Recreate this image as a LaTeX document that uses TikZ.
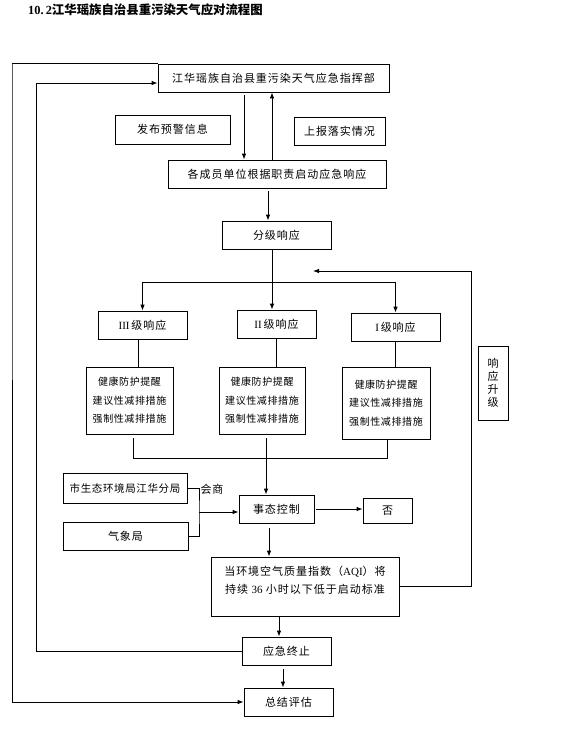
\documentclass[tikz,border=0pt]{standalone}
\usepackage{fontspec}
\setmainfont{Liberation Serif}
\newfontfamily\cjk[LetterSpace=9]{Noto Sans CJK SC}
\newfontfamily\cjkm[LetterSpace=6]{Noto Sans CJK SC}
\newfontfamily\cjkt{Noto Sans CJK SC}
\usepackage{tikz}
\usetikzlibrary{arrows.meta, positioning, calc}

\begin{document}
\begin{tikzpicture}[
  x=1pt, y=-1pt,
  >={Latex[length=6pt,width=4.5pt]},
  box/.style={draw, rectangle, line width=0.8pt, inner sep=0pt, font=\fontsize{11}{14}\selectfont\cjk, align=center},
  measbox/.style={box, font=\fontsize{10}{18.5}\selectfont\cjkm},
  flow/.style={->, line width=0.8pt},
  link/.style={line width=0.8pt},
  lbl/.style={font=\fontsize{11}{13}\selectfont\cjk, inner sep=0pt}
]
\useasboundingbox (0,0) rectangle (572,732);

\node[font=\fontsize{12.4}{14}\selectfont\bfseries, anchor=west, inner sep=0pt] (title) at (28,10) {{\rmfamily 10.\,2}{\cjkt 江华瑶族自治县重污染天气应对流程图}};

\node[box, minimum width=231pt, minimum height=28pt] (cmd) at (273.5,78) {江华瑶族自治县重污染天气应急指挥部};
\node[box, minimum width=115pt, minimum height=29pt] (fabu) at (172.5,129.5) {发布预警信息};
\node[box, minimum width=91pt, minimum height=28pt] (shangbao) at (339.5,131) {上报落实情况};
\node[box, minimum width=218pt, minimum height=28pt] (member) at (277,174) {各成员单位根据职责启动应急响应};
\node[box, minimum width=109pt, minimum height=28pt] (fenji) at (276.5,235) {分级响应};

\node[box, minimum width=89pt, minimum height=28pt] (L3) at (142.5,325) {{\rmfamily III}\,级响应};
\node[box, minimum width=79pt, minimum height=28pt] (L2) at (276.5,324) {{\rmfamily II}\,级响应};
\node[box, minimum width=89pt, minimum height=28pt] (L1) at (395.5,327) {{\rmfamily I}\,级响应};

\node[measbox, minimum width=87pt, minimum height=67pt] (M3) at (129.5,400.5) {健康防护提醒\\建议性减排措施\\强制性减排措施};
\node[measbox, minimum width=86pt, minimum height=67pt] (M2) at (262,400.5) {健康防护提醒\\建议性减排措施\\强制性减排措施};
\node[measbox, minimum width=88pt, minimum height=72pt] (M1) at (386,403) {健康防护提醒\\建议性减排措施\\强制性减排措施};

\node[box, minimum width=30pt, minimum height=74pt, font=\fontsize{11}{13}\selectfont\cjkt] (shengji) at (493,383) {响\\应\\升\\级};

\node[box, minimum width=124pt, minimum height=30pt, font=\fontsize{10.5}{13}\selectfont\cjkm] (sheng) at (125,488) {市生态环境局江华分局};
\node[box, minimum width=125pt, minimum height=28pt] (qixiang) at (125.5,536) {气象局};
\node[lbl] (huishang) at (212,489) {会商};
\node[box, minimum width=75pt, minimum height=28pt] (shitai) at (276.5,509) {事态控制};
\node[box, minimum width=49pt, minimum height=25pt] (fou) at (387.5,510.5) {否};
\node[box, minimum width=188pt, minimum height=59pt, font=\fontsize{11}{18}\selectfont\cjk] (aqi) at (305,586.5) {当环境空气质量指数（{\rmfamily AQI}）将\\持续 {\rmfamily 36} 小时以下低于启动标准\\[-5pt]\mbox{}};
\node[box, minimum width=89pt, minimum height=28pt] (zhongzhi) at (286.5,651) {应急终止};
\node[box, minimum width=89pt, minimum height=28pt] (zongjie) at (288.5,702) {总结评估};

% turning points of the lines
\coordinate (split) at (272,282);
\coordinate (merge) at (266,458);
\coordinate (bra) at (199,512);
\coordinate (up) at (471,271);
\coordinate (upend) at (313,271);
\coordinate (lp1) at (36,83);
\coordinate (lp2) at (12,64);

\draw[flow, shorten <=3pt] ([xshift=-29.5pt]cmd.south) -- ([xshift=-29.5pt]cmd.south |- member.north);
\draw[flow] ([xshift=-5pt]member.north) -- ([xshift=-5pt]member.north |- cmd.south);
\draw[flow, shorten <=3pt] ([xshift=-9pt]member.south) -- ([xshift=-9pt]member.south |- fenji.north);

\draw[link] (fenji.south -| split) -- (split);
\draw[link] (split -| L3.north) -- (split -| L1.north);
\draw[flow] (split -| L3.north) -- (L3.north);
\draw[flow] (split) -- (split |- L2.north);
\draw[flow] (split -| L1.north) -- (L1.north);

\draw[link] ([xshift=-4.5pt]L3.south) -- ([xshift=-4.5pt]L3.south |- M3.north);
\draw[link] (L2.south) -- (L2.south |- M2.north);
\draw[link] (L1.south) -- (L1.south |- M1.north);

\draw[link, shorten <=4pt] ([xshift=3.5pt]M3.south) |- (merge);
\draw[link, shorten <=4pt] ([xshift=4pt]M2.south) -- (merge);
\draw[link, shorten <=1pt] ([xshift=1pt]M1.south) |- (merge);
\draw[flow] (merge) -- (merge |- shitai.north);

\draw[link] (sheng.east) -| (bra) |- (qixiang.east);
\draw[flow] (bra) -- (bra -| shitai.west);

\draw[flow, shorten <=2pt] (shitai.east) -- (shitai.east -| fou.west);
\draw[flow, shorten <=5pt] ([xshift=-7.5pt]shitai.south) -- ([xshift=-7.5pt]shitai.south |- aqi.north);
\draw[flow] (aqi.east) -| (up) -- (upend);
\draw[flow] ([xshift=-7.5pt]zhongzhi.north |- aqi.south) -- ([xshift=-7.5pt]zhongzhi.north);
\draw[flow, shorten <=4pt] ([xshift=-5.5pt]zongjie.north |- zhongzhi.south) -- ([xshift=-5.5pt]zongjie.north);

\draw[flow] (zhongzhi.west) -| (lp1) -- (lp1 -| cmd.west);
\draw[flow] (cmd.north west) -| (lp2) |- (zongjie.west);
\end{tikzpicture}
\end{document}
